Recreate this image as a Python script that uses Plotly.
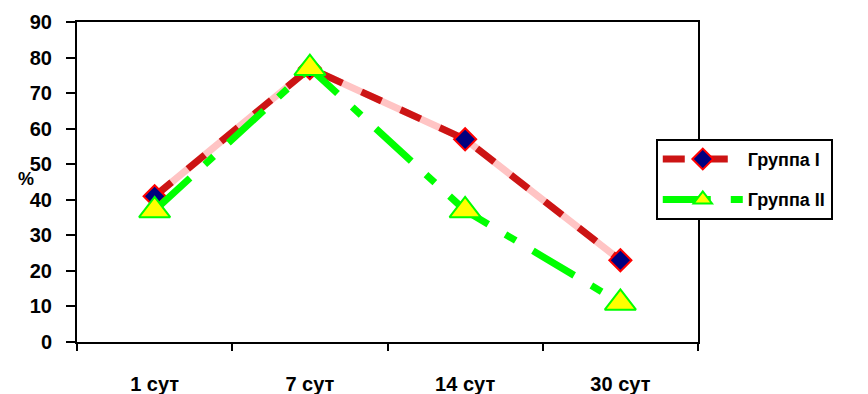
import plotly.graph_objects as go

# Observation days and percentages per group
days = ["1 сут", "7 сут", "14 сут", "30 сут"]
group_1 = [41, 77, 57, 23]
group_2 = [37, 77, 37, 11]
y_ticks = [0, 10, 20, 30, 40, 50, 60, 70, 80, 90]

FONT = "Liberation Sans"


def bold(s):
    return f"<b>{s}</b>"


fig = go.Figure()

# Group I: pink base line under a dark-red dashed line
fig.add_trace(go.Scatter(
    x=days, y=group_1, mode="lines", showlegend=False, hoverinfo="skip",
    line=dict(color="#FFC4C4", width=7), legendgroup="g1",
))
fig.add_trace(go.Scatter(
    x=days, y=group_1, mode="lines+markers", name=bold("Группа I"),
    legendgroup="g1",
    line=dict(color="#CC1414", width=7, dash="22px,21px"),
    marker=dict(symbol="diamond", size=17, color="#000080",
                line=dict(color="#FF0000", width=2)),
))

# Group II: green dash-dot line with yellow triangles
fig.add_trace(go.Scatter(
    x=days, y=group_2, mode="lines+markers", name=bold("Группа II"),
    legendgroup="g2",
    line=dict(color="#00FF00", width=7, dash="48px,20px,12px,20px"),
    marker=dict(symbol="triangle-up", size=27, color="#FFFF00",
                line=dict(color="#00FF00", width=2)),
))

fig.add_annotation(
    text=bold("%"), xref="paper", yref="paper", x=-0.098, y=0.51,
    showarrow=False, font=dict(family=FONT, size=18, color="black"),
)

fig.update_layout(
    width=868, height=394,
    margin=dict(l=77, r=170, t=22, b=52, autoexpand=False),
    paper_bgcolor="white", plot_bgcolor="white",
    font=dict(family=FONT, size=19, color="black"),
    showlegend=True,
    legend=dict(
        x=0.932, y=0.635, xanchor="left", yanchor="top",
        bgcolor="white", bordercolor="black", borderwidth=2,
        font=dict(family=FONT, size=18, color="black"),
        itemwidth=80, tracegroupgap=14,
    ),
)

fig.update_xaxes(
    type="category", range=[-0.5, 3.5],
    showline=True, linecolor="black", linewidth=2,
    mirror=True, showgrid=False, zeroline=False,
    tickvals=days, ticktext=[bold(d) for d in days],
    ticks="outside", tickson="boundaries", ticklen=7, tickwidth=2,
    tickcolor="black", ticklabelstandoff=23,
    tickfont=dict(family=FONT, size=20, color="black"),
)
fig.update_yaxes(
    range=[0, 90], tickvals=y_ticks, ticktext=[bold(v) for v in y_ticks],
    showline=True, linecolor="black",
    linewidth=2, mirror=True, showgrid=False, zeroline=False,
    ticks="outside", ticklen=9, tickwidth=2, tickcolor="black",
    ticklabelstandoff=10,
    tickfont=dict(family=FONT, size=20, color="black"),
)

fig.write_html("out.html")
